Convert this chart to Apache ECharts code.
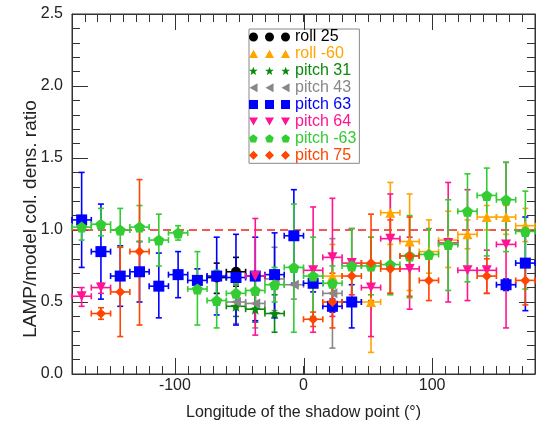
<!DOCTYPE html>
<html>
<head>
<meta charset="utf-8">
<script src="https://cdn.jsdelivr.net/npm/echarts@6/dist/echarts.min.js"></script>
<style>
  html, body { margin: 0; padding: 0; background: #fff; }
  #chart { width: 538px; height: 426px; }
</style>
</head>
<body>
<div id="chart"></div>
<script>
// Half width of each longitude bin (degrees)
const LON_HALF_WIDTH = 7.5;
const REF_RATIO = 1.0;
const X_MIN = -180, X_MAX = 180, Y_MIN = 0, Y_MAX = 2.5;
// Labelled (long) longitude ticks
const xMajorTicks = [-100, 0, 100];

// roll 25
const roll25Lon  = [-67.5, -52.5];
const roll25Val  = [0.67, 0.71];
const roll25Low  = [0.56, 0.61];
const roll25High = [0.77, 0.81];

// roll -60
const rollM60Lon  = [22.5, 52.5, 67.5, 82.5, 97.5, 112.5, 127.5, 142.5, 157.5, 172.5];
const rollM60Val  = [0.68, 0.50, 1.12, 0.92, 0.85, 0.93, 0.97, 1.09, 1.09, 1.03];
const rollM60Low  = [0.45, 0.15, 0.90, 0.58, 0.70, 0.74, 0.87, 1.00, 0.97, 0.92];
const rollM60High = [0.90, 0.95, 1.33, 1.25, 1.07, 1.13, 1.07, 1.17, 1.17, 1.15];

// pitch 31
const pitch31Lon  = [-52.5, -37.5, -22.5];
const pitch31Val  = [0.47, 0.45, 0.42];
const pitch31Low  = [0.40, 0.36, 0.29];
const pitch31High = [0.55, 0.55, 0.55];

// pitch 43
const pitch43Lon  = [-52.5, -37.5, -22.5, -7.5, 22.5];
const pitch43Val  = [0.50, 0.49, 0.66, 0.62, 0.56];
const pitch43Low  = [0.35, 0.32, 0.44, 0.52, 0.18];
const pitch43High = [0.62, 0.65, 0.88, 0.72, 0.94];

// pitch 63
const pitch63Lon  = [-172.5, -157.5, -142.5, -127.5, -112.5, -97.5, -82.5, -67.5, -52.5, -37.5, -22.5, -7.5, 7.5, 22.5, 37.5, 157.5, 172.5];
const pitch63Val  = [1.07, 0.85, 0.68, 0.71, 0.61, 0.69, 0.65, 0.68, 0.67, 0.68, 0.69, 0.96, 0.63, 0.47, 0.50, 0.62, 0.77];
const pitch63Low  = [0.74, 0.52, 0.47, 0.50, 0.39, 0.53, 0.57, 0.41, 0.34, 0.37, 0.39, 0.63, 0.57, 0.43, 0.32, 0.58, 0.44];
const pitch63High = [1.40, 1.18, 0.89, 0.92, 0.84, 0.85, 0.73, 0.95, 0.97, 0.95, 0.98, 1.28, 0.69, 0.52, 0.62, 0.66, 1.09];

// pitch 64
const pitch64Lon  = [-172.5, -157.5, -37.5, 7.5, 22.5, 37.5, 52.5, 67.5, 82.5, 112.5, 127.5, 142.5, 157.5];
const pitch64Val  = [0.54, 0.60, 0.68, 0.72, 0.81, 0.77, 0.60, 0.94, 0.73, 0.91, 0.72, 0.72, 0.90];
const pitch64Low  = [0.47, 0.56, 0.27, 0.29, 0.40, 0.55, 0.26, 0.56, 0.45, 0.50, 0.51, 0.56, 0.32];
const pitch64High = [0.60, 0.63, 1.08, 1.16, 1.22, 1.01, 0.72, 1.25, 0.95, 1.33, 1.28, 0.86, 1.47];

// pitch -63
const pitchM63Lon  = [-172.5, -157.5, -142.5, -127.5, -112.5, -97.5, -82.5, -67.5, -52.5, -37.5, -22.5, -7.5, 7.5, 22.5, 37.5, 52.5, 67.5, 82.5, 97.5, 112.5, 127.5, 142.5, 157.5, 172.5];
const pitchM63Val  = [1.02, 1.04, 1.00, 1.02, 0.93, 0.98, 0.59, 0.51, 0.56, 0.58, 0.62, 0.74, 0.68, 0.63, 0.75, 0.75, 0.76, 0.82, 0.83, 0.90, 1.13, 1.24, 1.21, 0.99];
const pitchM63Low  = [0.93, 0.96, 0.88, 0.92, 0.75, 0.93, 0.34, 0.32, 0.46, 0.46, 0.50, 0.29, 0.40, 0.50, 0.50, 0.55, 0.55, 0.53, 0.65, 0.58, 0.64, 0.82, 0.85, 0.59];
const pitchM63High = [1.10, 1.15, 1.15, 1.17, 1.11, 1.03, 0.85, 0.72, 0.63, 0.70, 0.74, 1.18, 0.95, 0.75, 1.01, 0.95, 0.95, 1.10, 1.01, 1.21, 1.39, 1.43, 1.47, 1.27];

// pitch 75
const pitch75Lon  = [-157.5, -142.5, -127.5, 7.5, 22.5, 37.5, 52.5, 67.5, 82.5, 97.5, 142.5, 172.5];
const pitch75Val  = [0.42, 0.57, 0.85, 0.38, 0.50, 0.68, 0.77, 0.73, 0.82, 0.65, 0.68, 0.65];
const pitch75Low  = [0.38, 0.26, 0.34, 0.33, 0.32, 0.51, 0.51, 0.56, 0.54, 0.51, 0.56, 0.48];
const pitch75High = [0.46, 0.88, 1.35, 0.43, 0.70, 0.80, 1.11, 1.07, 1.09, 0.80, 0.80, 0.80];

// Marker outlines (unit shapes centred at 0,0, radius ~1)
function polyPts(n, startDeg, outerR, innerR) {
  const pts = [];
  const steps = innerR ? n * 2 : n;
  for (let i = 0; i < steps; i++) {
    const a = (startDeg + i * 360 / steps) * Math.PI / 180;
    const r = innerR && (i % 2 === 1) ? innerR : outerR;
    pts.push([r * Math.cos(a), r * Math.sin(a)]);
  }
  return pts;
}
const SHAPES = {
  circle: null,
  triUp: [[0, -1], [1, 0.8], [-1, 0.8]],
  triDown: [[0, 0.8], [1, -1], [-1, -1]],
  triLeft: [[-0.9, 0], [0.9, -1], [0.9, 1]],
  square: [[-1, -1], [1, -1], [1, 1], [-1, 1]],
  diamond: [[0, -1], [1, 0], [0, 1], [-1, 0]],
  star: polyPts(5, -90, 1, 0.42),
  pentagon: polyPts(5, -90, 1, 0)
};
function shapePath(kind, cx, cy, r) {
  if (kind === 'circle') {
    return `M${cx - r},${cy} A${r},${r} 0 1,0 ${cx + r},${cy} A${r},${r} 0 1,0 ${cx - r},${cy} Z`;
  }
  return 'M' + SHAPES[kind].map(p => `${(cx + p[0] * r).toFixed(2)},${(cy + p[1] * r).toFixed(2)}`).join(' L') + ' Z';
}
function symbolFor(kind) {
  if (kind === 'circle') return 'circle';
  return 'path://' + shapePath(kind, 0, 0, 10);
}
// Legend icon: the marker repeated three times
function legendIcon(kind) {
  const r = 4.5;
  return 'path://' + [r, 20.5, 41 - r].map(cx => shapePath(kind, cx, r, r)).join(' ');
}

const groups = [
  { name: 'roll 25',   color: '#000000', shape: 'circle',   size: 10, lon: roll25Lon,   val: roll25Val,   low: roll25Low,   high: roll25High },
  { name: 'roll -60',  color: '#FFA500', shape: 'triUp',    size: 10, lon: rollM60Lon,  val: rollM60Val,  low: rollM60Low,  high: rollM60High },
  { name: 'pitch 31',  color: '#0A8A0A', shape: 'star',     size: 11, lon: pitch31Lon,  val: pitch31Val,  low: pitch31Low,  high: pitch31High },
  { name: 'pitch 43',  color: '#888888', shape: 'triLeft',  size: 10, lon: pitch43Lon,  val: pitch43Val,  low: pitch43Low,  high: pitch43High },
  { name: 'pitch 63',  color: '#0000FF', shape: 'square',   size: 11, lon: pitch63Lon,  val: pitch63Val,  low: pitch63Low,  high: pitch63High },
  { name: 'pitch 64',  color: '#FF1493', shape: 'triDown',  size: 10, lon: pitch64Lon,  val: pitch64Val,  low: pitch64Low,  high: pitch64High },
  { name: 'pitch -63', color: '#33CC33', shape: 'pentagon', size: 11, lon: pitchM63Lon, val: pitchM63Val, low: pitchM63Low, high: pitchM63High },
  { name: 'pitch 75',  color: '#FF4500', shape: 'diamond',  size: 10, lon: pitch75Lon,  val: pitch75Val,  low: pitch75Low,  high: pitch75High }
];

const FONT = 'Liberation Sans, Arial, Helvetica, sans-serif';
const AXIS_COLOR = '#333333';

function errorBarRenderer(color) {
  return function (params, api) {
    const x = api.value(0), y = api.value(1), lo = api.value(2), hi = api.value(3);
    const pLo = api.coord([x, lo]);
    const pHi = api.coord([x, hi]);
    const pL = api.coord([x - LON_HALF_WIDTH, y]);
    const pR = api.coord([x + LON_HALF_WIDTH, y]);
    const cap = 3;
    const style = { stroke: color, lineWidth: 1.6 };
    const seg = (x1, y1, x2, y2) => ({ type: 'line', shape: { x1, y1, x2, y2 }, style });
    return {
      type: 'group',
      children: [
        seg(pLo[0], pLo[1], pHi[0], pHi[1]),
        seg(pLo[0] - cap, pLo[1], pLo[0] + cap, pLo[1]),
        seg(pHi[0] - cap, pHi[1], pHi[0] + cap, pHi[1]),
        seg(pL[0], pL[1], pR[0], pR[1]),
        seg(pL[0], pL[1] - cap, pL[0], pL[1] + cap),
        seg(pR[0], pR[1] - cap, pR[0], pR[1] + cap)
      ]
    };
  };
}

// Long ticks at the labelled longitudes, on the bottom and top frame
function majorTickRenderer(params, api) {
  const v = api.value(0);
  const b = api.coord([v, Y_MIN]);
  const t = api.coord([v, Y_MAX]);
  const len = 16;
  const style = { stroke: AXIS_COLOR, lineWidth: 1 };
  const px = Math.round(b[0]) + 0.5;
  return {
    type: 'group',
    children: [
      { type: 'line', shape: { x1: px, y1: b[1], x2: px, y2: b[1] - len }, style },
      { type: 'line', shape: { x1: px, y1: t[1], x2: px, y2: t[1] + len }, style }
    ]
  };
}

const series = [
  {
    type: 'custom',
    renderItem: majorTickRenderer,
    data: xMajorTicks.map(v => [v, Y_MIN]),
    encode: { x: 0, y: 1 },
    silent: true,
    clip: false,
    z: 5
  },
  {
    type: 'line',
    data: [[X_MIN, REF_RATIO], [X_MAX, REF_RATIO]],
    symbol: 'none',
    silent: true,
    lineStyle: { color: '#F02020', width: 1.5, type: [8, 5] },
    z: 1
  }
];

groups.forEach(g => {
  series.push({
    type: 'custom',
    name: g.name + ' err',
    renderItem: errorBarRenderer(g.color),
    data: g.lon.map((x, i) => [x, g.val[i], g.low[i], g.high[i]]),
    encode: { x: 0, y: [1, 2, 3] },
    silent: true,
    z: 2
  });
  series.push({
    type: 'scatter',
    name: g.name,
    data: g.lon.map((x, i) => [x, g.val[i]]),
    symbol: symbolFor(g.shape),
    symbolSize: g.size,
    itemStyle: { color: g.color, opacity: 1 },
    emphasis: { disabled: true },
    silent: true,
    z: 2
  });
});

const baseX = {
  type: 'value', min: X_MIN, max: X_MAX, interval: 10, gridIndex: 0,
  splitLine: { show: false },
  axisLine: { show: true, onZero: false, lineStyle: { color: AXIS_COLOR, width: 1 } },
  axisTick: { inside: true, length: 8, lineStyle: { color: AXIS_COLOR } }
};
const baseY = {
  type: 'value', min: Y_MIN, max: Y_MAX, interval: 0.5,
  splitLine: { show: false },
  axisLine: { show: true, onZero: false, lineStyle: { color: AXIS_COLOR } },
  axisTick: { inside: true, length: 16, lineStyle: { color: AXIS_COLOR } },
  minorTick: { show: true, splitNumber: 5, length: 8, lineStyle: { color: AXIS_COLOR } }
};

const option = {
  animation: false,
  backgroundColor: '#ffffff',
  grid: { left: 72, right: 3, top: 14, bottom: 47, show: true, borderColor: AXIS_COLOR, borderWidth: 1 },
  xAxis: [
    Object.assign({}, baseX, {
      position: 'bottom',
      axisLabel: {
        formatter: v => (xMajorTicks.indexOf(v) >= 0 ? String(v) : ''),
        fontSize: 16, color: '#222', fontFamily: FONT, margin: 4
      },
      name: 'Longitude of the shadow point (°)', nameLocation: 'middle', nameGap: 31,
      nameTextStyle: { fontSize: 16, color: '#222', fontFamily: FONT }
    }),
    Object.assign({}, baseX, { position: 'top', axisLabel: { show: false } })
  ],
  yAxis: [
    Object.assign({}, baseY, {
      position: 'left',
      axisLabel: { formatter: v => v.toFixed(1), fontSize: 16, color: '#222', fontFamily: FONT, margin: 9 }
    }),
    Object.assign({}, baseY, { position: 'right', axisLabel: { show: false } })
  ],
  legend: {
    orient: 'vertical', left: 249, top: 29,
    padding: [0, 3, 0, 0], itemGap: 0.9, itemWidth: 41, itemHeight: 9,
    symbolRotate: 0,
    backgroundColor: '#ffffff', borderColor: '#888888', borderWidth: 1,
    selectedMode: false,
    textStyle: { fontSize: 16, fontFamily: FONT },
    data: groups.map(g => ({
      name: g.name,
      icon: legendIcon(g.shape),
      itemStyle: { color: g.color },
      textStyle: { color: g.color }
    }))
  },
  graphic: [{
    type: 'text', x: 31, y: 219, rotation: Math.PI / 2,
    style: { text: 'LAMP/model col. dens. ratio', fontSize: 19, fontFamily: FONT, fill: '#222', align: 'center', verticalAlign: 'middle' }
  }],
  series: series
};

const chart = echarts.init(document.getElementById('chart'), null, { renderer: 'canvas' });
chart.setOption(option);
</script>
</body>
</html>
